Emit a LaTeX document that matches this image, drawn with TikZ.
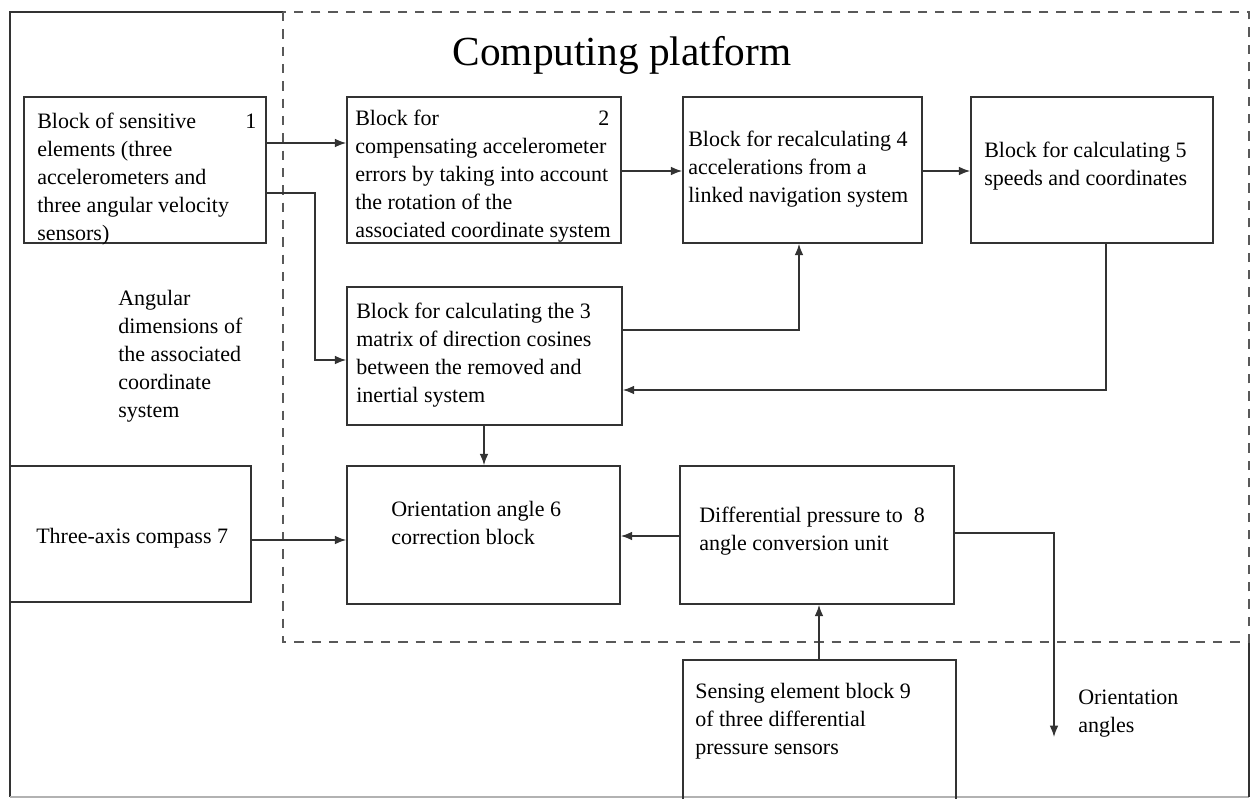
\documentclass[tikz,border=0pt]{standalone}
\usepackage{fontspec}
\setmainfont{Liberation Serif}
\usetikzlibrary{arrows.meta,fit,calc}
\begin{document}
\begin{tikzpicture}[x=0.75pt,y=-0.75pt,
 blk/.style={draw=black!80, line width=1.2pt, inner sep=0pt},
 txt/.style={anchor=north west, inner sep=0pt, align=left, font=\fontsize{16.5}{21}\selectfont},
 num/.style={anchor=base west, inner sep=0pt, font=\fontsize{16.5}{21}\selectfont},
 arr/.style={draw=black!80, line width=1.1pt, -{Latex[length=8.5pt,width=6.5pt]}},
 ln/.style={draw=black!80, line width=1.1pt},
 dsh/.style={draw=black!65, line width=2.1pt, dash pattern=on 7pt off 6pt}]
\useasboundingbox (0,0) rectangle (1257,799);
\fill[white] (0,0) rectangle (1257,799);

% frames
\draw[ln] (283,12) -- (10,12) -- (10,797);
\draw[draw=black!30, line width=1.1pt] (10,797) -- (1249,797);
\draw[ln] (1249,797) -- (1249,642);
\draw[dsh] (283,12) rectangle (1249,642);

\node[anchor=base, inner sep=0pt, font=\fontsize{31}{36}\selectfont] (title) at (622,65) {Computing platform};

% blocks
\node[blk, fit={(24,97) (266,243)}] (b1) {};
\node[blk, fit={(347,97) (621,243)}] (b2) {};
\node[blk, fit={(683,97) (922,243)}] (b4) {};
\node[blk, fit={(971,97) (1213,243)}] (b5) {};
\node[blk, fit={(347,287) (622,425)}] (b3) {};
\node[blk, fit={(347,466) (620,604)}] (b6) {};
\node[blk, fit={(10,466) (251,602)}] (b7) {};
\node[blk, fit={(680,466) (954,604)}] (b8) {};
\node[blk, fit={(683,660) (956,800)}] (b9) {};

% texts
\node[txt] (t1) at (37,113) {Block of sensitive\\elements (three\\accelerometers and\\three angular velocity\\sensors)};
\node[num] (n1) at (245,128) {1};
\node[txt] (t2) at (355,110) {Block for\\compensating accelerometer\\errors by taking into account\\the rotation of the\\associated coordinate system};
\node[num] (n2) at (598,125) {2};
\node[txt] (t4) at (688,131) {Block for recalculating 4\\accelerations from a\\linked navigation system};
\node[txt] (t5) at (984,142) {Block for calculating 5\\speeds and coordinates};
\node[txt] (t3) at (356,303) {Block for calculating the 3\\matrix of direction cosines\\between the removed and\\inertial system};
\node[txt] (tang) at (118,290) {Angular\\dimensions of\\the associated\\coordinate\\system};
\node[txt] (t6) at (391,501) {Orientation angle 6\\correction block};
\node[txt] (t7) at (36,528) {Three-axis compass 7};
\node[txt] (t8) at (699,507) {Differential pressure to\ \ 8\\angle conversion unit};
\node[txt] (t9) at (695,683) {Sensing element block 9\\of three differential\\pressure sensors};
\node[txt] (tout) at (1078,690) {Orientation\\angles};

% connectors
\coordinate (c12) at (0,143);
\draw[arr] (b1.east |- c12) -- (b2.west |- c12);
\coordinate (k1) at (315,193);
\coordinate (k2) at (315,360);
\draw[arr] (b1.east |- k1) -- (k1) -- (k2) -- (b3.west |- k2);
\coordinate (c24) at (0,171);
\draw[arr] (b2.east |- c24) -- (b4.west |- c24);
\draw[arr] (b4.east |- c24) -- (b5.west |- c24);
\coordinate (k3) at (799,330);
\draw[arr] (b3.east |- k3) -- (k3) -- (k3 |- b4.south);
\coordinate (k5) at (1106,390);
\draw[arr] (k5 |- b5.south) -- (k5) -- (b3.east |- k5);
\coordinate (k6) at (484,0);
\draw[arr] (k6 |- b3.south) -- (k6 |- b6.north);
\coordinate (k7) at (0,540);
\draw[arr] (b7.east |- k7) -- (b6.west |- k7);
\coordinate (k86) at (0,536);
\draw[arr] (b8.west |- k86) -- (b6.east |- k86);
\coordinate (k9) at (819,0);
\draw[arr] (k9 |- b9.north) -- (k9 |- b8.south);
\coordinate (k8) at (1054,533);
\coordinate (kout) at (1054,737);
\draw[arr] (b8.east |- k8) -- (k8) -- (kout);
\end{tikzpicture}
\end{document}
